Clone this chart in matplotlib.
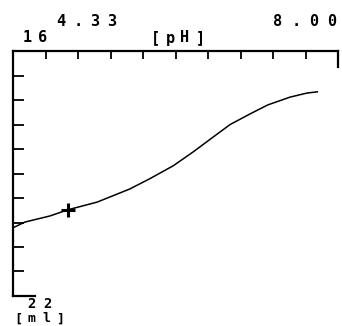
import numpy as np
import matplotlib
matplotlib.use("Agg")
import matplotlib.pyplot as plt

# titration curve: pH (x) vs volume in ml (y, 16 at top)
ph = [3.60, 3.76, 4.10, 4.34, 4.74, 5.18, 5.45, 5.77, 6.04,
      6.33, 6.54, 6.81, 7.05, 7.35, 7.58, 7.72]
ml = [20.33, 20.19, 20.04, 19.89, 19.70, 19.38, 19.13, 18.81, 18.47,
      18.08, 17.80, 17.54, 17.32, 17.13, 17.03, 17.00]
mark_ph = [4.34]
mark_ml = [19.89]

ph_min, ph_max = 3.6, 8.0
ml_top, ml_bottom = 16, 22
x_ticks = np.linspace(ph_min, ph_max, 11)[1:]
y_ticks = np.linspace(ml_top, ml_bottom, 11)[1:-1]

W, H = 342, 326
fig = plt.figure(figsize=(W / 100, H / 100), dpi=100)
ax = fig.add_axes([13 / W, 1 - 296 / H, 325 / W, 245 / H])

ax.plot(ph, ml, color="black", lw=1.1)
ax.plot(mark_ph, mark_ml, marker="+", color="black", ms=10, mew=2.2, ls="none")

ax.set_xlim(ph_min, ph_max)
ax.set_ylim(ml_bottom, ml_top)

for s in ("right", "bottom"):
    ax.spines[s].set_visible(False)
for s in ("left", "top"):
    ax.spines[s].set_linewidth(1.6)

ax.xaxis.tick_top()
ax.set_xticks(x_ticks)
ax.set_xticklabels([])
ax.tick_params(axis="x", direction="in", length=6, width=1.3, top=True, bottom=False)
ax.set_yticks(y_ticks)
ax.set_yticklabels([])
ax.tick_params(axis="y", direction="in", length=8, width=1.3)

# short stub at the bottom of the left axis
ax.plot([ph_min, ph_min + 0.3], [ml_bottom, ml_bottom], color="black", lw=1.6,
        clip_on=False)
# longer end tick at the right
ax.plot([ph_max, ph_max], [ml_top, ml_top + 0.4], color="black", lw=1.6,
        clip_on=False)


def spaced(x0, y, s, pitch, size=11):
    # plotter-style text with wide letter spacing, coords in pixels
    for i, ch in enumerate(s):
        fig.text((x0 + i * pitch) / W, 1 - y / H, ch, ha="center", va="center",
                 fontsize=size, family="DejaVu Sans Mono", fontweight="bold")


spaced(27, 38, "16", 16)
spaced(61, 22, "4.33", 17)
spaced(155, 38, "[pH]", 15)
spaced(278, 22, "8.00", 18)
spaced(31, 304, "22", 16, size=10)
spaced(18, 319, "[ml]", 14, size=9.5)

fig.savefig("out.png", dpi=100)
